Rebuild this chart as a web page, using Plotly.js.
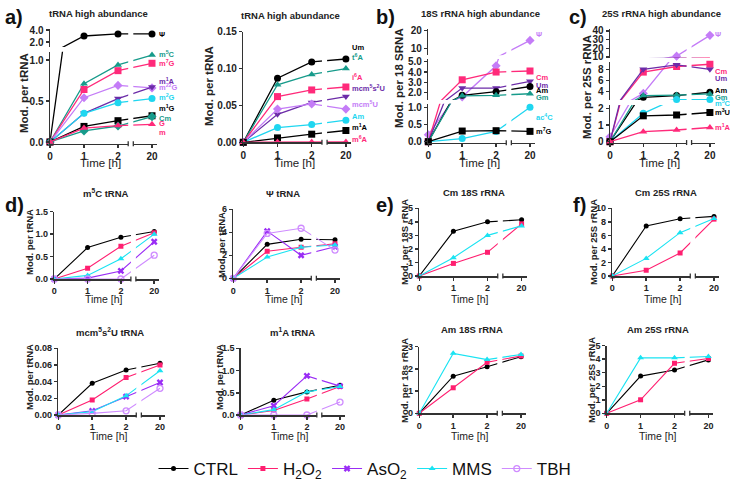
<!DOCTYPE html>
<html>
<head>
<meta charset="utf-8">
<script src="https://cdn.plot.ly/plotly-3.0.1.min.js"></script>
<style>
  html, body { margin: 0; padding: 0; background: #fff; }
  #chart { width: 730px; height: 486px; }
</style>
</head>
<body>
<div id="chart"></div>
<script>
const times = ["0", "1", "2", "20"];

// a) tRNA high abundance, left plot
const aPsi = [0, 3.0, 3.35, 3.35];
const aM5C = [0, 0.71, 0.94, 1.06];
const aM7G = [0, 0.64, 0.87, 0.96];
const aM1A = [0, 0.35, 0.53, 0.67];
const aM22G = [0, 0.54, 0.69, 0.66];
const aM2G = [0, 0.35, 0.48, 0.53];
const aM1G = [0, 0.19, 0.26, 0.32];
const aCm = [0, 0.135, 0.195, 0.31];
const aGm = [0, 0.17, 0.2, 0.215];

// a) tRNA high abundance, right plot
const aUm = [0, 0.087, 0.109, 0.113];
const aT6A = [0, 0.078, 0.092, 0.1];
const aI6A = [0, 0.062, 0.071, 0.075];
const aMcm5s2U = [0, 0.038, 0.054, 0.062];
const aMcm5U = [0, 0.045, 0.052, 0.045];
const aAm = [0, 0.02, 0.024, 0.03];
const aM1Ar = [0, 0.006, 0.011, 0.016];
const aM6A = [0, 0.0005, 0.0005, 0.0005];

// b) 18S rRNA high abundance
const bPsi = [0.2, 1.6, 4.6, 14.5];
const bCm = [0, 3.25, 4.0, 4.1];
const bUm = [0, 2.45, 2.45, 3.1];
const bAm = [0, 1.75, 2.1, 2.6];
const bGm = [0, 1.7, 1.75, 1.9];
const bAc4C = [0, 0.09, 0.3, 1.0];
const bM7G = [0, 0.31, 0.32, 0.3];

// c) 25S rRNA high abundance
const cPsi = [0.3, 3.7, 11, 35];
const cCm = [0, 7.5, 8.5, 8.9];
const cUm = [0, 8.0, 8.8, 8.0];
const cAm = [0, 3.0, 3.3, 3.9];
const cGm = [0, 3.3, 3.4, 3.6];
const cM5C = [0, 1.7, 2.6, 2.6];
const cM3U = [0, 1.55, 1.6, 1.75];
const cM1A = [0, 0.6, 0.7, 0.85];

// d) m5C tRNA
const m5cCtrl = [0, 0.7, 0.93, 1.06];
const m5cH2O2 = [0, 0.24, 0.73, 1.03];
const m5cAsO2 = [0, 0.02, 0.18, 0.83];
const m5cMMS = [0, 0.08, 0.45, 1.0];
const m5cTBH = [0, 0, 0, 0.53];
// d) Psi tRNA
const psiCtrl = [0, 2.95, 3.4, 3.35];
const psiH2O2 = [0, 2.35, 2.7, 3.0];
const psiAsO2 = [0, 4.1, 2.0, 2.75];
const psiMMS = [0, 1.85, 2.7, 2.9];
const psiTBH = [0, 3.9, 4.35, 2.45];
// e) Cm 18S rRNA
const cm18Ctrl = [0, 3.3, 4.0, 4.15];
const cm18H2O2 = [0, 0.93, 1.75, 3.85];
const cm18MMS = [0, 1.35, 3.0, 3.7];
// f) Cm 25S rRNA
const cm25Ctrl = [0, 7.4, 8.45, 8.8];
const cm25H2O2 = [0, 0.85, 3.4, 8.4];
const cm25MMS = [0, 2.6, 6.4, 8.5];
// d) mcm5s2U tRNA
const mcmCtrl = [0, 0.038, 0.054, 0.062];
const mcmH2O2 = [0, 0.018, 0.045, 0.06];
const mcmAsO2 = [0, 0.005, 0.022, 0.039];
const mcmMMS = [0, 0.004, 0.023, 0.053];
const mcmTBH = [0, 0.002, 0.005, 0.032];
// d) m1A tRNA
const m1aCtrl = [0, 0.33, 0.52, 0.67];
const m1aH2O2 = [0, 0.1, 0.36, 0.64];
const m1aAsO2 = [0, 0.21, 0.88, 0.65];
const m1aMMS = [0, 0.12, 0.52, 0.64];
const m1aTBH = [0, 0, 0, 0.29];
// e) Am 18S rRNA
const am18Ctrl = [0, 1.67, 2.1, 2.55];
const am18H2O2 = [0, 1.15, 2.3, 2.58];
const am18MMS = [0, 2.7, 2.42, 2.65];
// f) Am 25S rRNA
const am25Ctrl = [0, 2.75, 3.2, 3.95];
const am25H2O2 = [0, 1.0, 3.7, 4.05];
const am25MMS = [0, 4.1, 4.1, 4.2];

const W = 730, H = 486;
const fx = (p) => p / W;
const fy = (p) => 1 - p / H;

const K = "#000000", PINK = "#ff2a7a", TEAL = "#179b8b", PURPLE = "#6c2ca8",
  VIOLET = "#c47cf7", CYAN = "#1fd6f0";

const treat = {
  ctrl: { name: "CTRL", color: "#000000", symbol: "circle", size: 5 },
  h2o2: { name: "H<sub>2</sub>O<sub>2</sub>", color: "#ff1f70", symbol: "square", size: 5 },
  aso2: { name: "AsO<sub>2</sub>", color: "#9a2df5", symbol: "x", size: 6 },
  mms: { name: "MMS", color: "#1ae3f2", symbol: "triangle-up", size: 6 },
  tbh: { name: "TBH", color: "#cf8cff", symbol: "circle-open", size: 6 },
};

// font sizes: top row is printed larger than the two lower rows
const topFonts = { tick: 10, title: 9.5, ytitle: 11.5, time: 11.5 };
const lowFonts = { tick: 9, title: 9.5, ytitle: 9.5, time: 10.5 };

const boldFont = { family: "Arial, Liberation Sans, sans-serif", weight: "bold", color: "#222" };

const layout = {
  width: W,
  height: H,
  margin: { l: 0, r: 0, t: 0, b: 0, autoexpand: false },
  paper_bgcolor: "#fff",
  plot_bgcolor: "rgba(0,0,0,0)",
  font: { family: "Arial, Liberation Sans, sans-serif", color: "#222" },
  showlegend: true,
  legend: {
    orientation: "h",
    x: 0.5,
    xanchor: "center",
    y: fy(469),
    yanchor: "middle",
    font: { size: 17, color: "#111" },
    bgcolor: "rgba(0,0,0,0)",
  },
  annotations: [],
  shapes: [],
};
const data = [];

const axisBase = {
  showline: true,
  linecolor: "#333",
  linewidth: 1.5,
  ticks: "outside",
  ticklen: 3,
  tickwidth: 1.5,
  tickcolor: "#333",
  showgrid: false,
  zeroline: false,
  fixedrange: true,
};

function ann(text, x, y, font, extra) {
  layout.annotations.push(Object.assign({
    text: text, x: fx(x), y: fy(y), xref: "paper", yref: "paper",
    xanchor: "center", yanchor: "middle", showarrow: false, font: font,
  }, extra || {}));
}
const bold = (size, color) => Object.assign({}, boldFont, { size: size }, color ? { color: color } : {});

const axId = (n) => (n === 1 ? "" : String(n));
const lin = (c, v) => c[1] + (v - c[0]) * (c[3] - c[1]) / (c[2] - c[0]);
let nx = 0, ny = 0;

function addPanel(p) {
  const fs = p.fonts;
  nx++;
  const xr = "x" + axId(nx);
  const yrefs = [];
  const xLeft = p.x0, xRight = p.x0 + 3.15 * p.unit;
  let topPx = Infinity, botPx = 0;
  p.segs.forEach((s) => {
    ny++;
    yrefs.push("y" + axId(ny));
    const pLo = lin(s.cal, s.lo), pHi = lin(s.cal, s.hi);
    topPx = Math.min(topPx, pHi);
    botPx = Math.max(botPx, pLo);
    layout["yaxis" + axId(ny)] = Object.assign({}, axisBase, {
      domain: [fy(pLo), fy(pHi)], anchor: xr, range: [s.lo, s.hi],
      tickvals: s.ticks, tickformat: s.fmt, tickfont: bold(fs.tick),
    });
  });
  layout["xaxis" + axId(nx)] = Object.assign({}, axisBase, {
    domain: [fx(xLeft), fx(xRight)], anchor: yrefs[0], type: "category", range: [0, 3.15],
    tickfont: bold(fs.tick),
  });
  const broken = yrefs.length > 1;
  p.series.forEach((s) => {
    yrefs.forEach((yr, i) => {
      const seg = p.segs[i];
      const marker = {
        color: s.color, size: s.size || 7, symbol: s.symbol,
        line: { color: s.color, width: s.symbol === "circle-open" ? 1.3 : 0 },
      };
      if (broken) {
        // line drawn in every segment, markers only where the point falls inside
        data.push({
          type: "scatter", mode: "lines", x: times, y: s.y, xaxis: xr, yaxis: yr,
          showlegend: false, line: { color: s.color, width: s.lw || 1.3 }, hoverinfo: "skip",
        });
        data.push({
          type: "scatter", mode: "markers", x: times,
          y: s.y.map((v) => (v >= seg.lo && v <= seg.hi ? v : null)),
          xaxis: xr, yaxis: yr, showlegend: false, marker: marker,
          cliponaxis: false, hoverinfo: "skip",
        });
      } else {
        data.push({
          type: "scatter", mode: "lines+markers", x: times, y: s.y,
          xaxis: xr, yaxis: yr, name: s.name || "", showlegend: !!s.legend,
          line: { color: s.color, width: s.lw || 1.3 }, marker: marker,
          cliponaxis: false, hoverinfo: "skip",
        });
      }
    });
  });
  // x axis break between 2 and 20
  layout.shapes.push({
    type: "rect", xref: xr, yref: "paper", x0: 2.3, x1: 2.45,
    y0: fy(botPx + 3), y1: fy(topPx), fillcolor: "#fff", line: { width: 0 }, layer: "above",
  });
  [2.3, 2.45].forEach((bx) => layout.shapes.push({
    type: "line", xref: xr, yref: "paper", x0: bx, x1: bx,
    y0: fy(botPx + 2.5), y1: fy(botPx - 2.5), line: { color: "#333", width: 1.3 }, layer: "above",
  }));
  // titles
  ann(p.title, p.titleX, p.titleY, bold(fs.title));
  ann("Time [h]", xLeft + 1.5 * p.unit, p.xTitleY,
    { family: boldFont.family, size: fs.time, color: "#222", weight: 500 });
  ann(p.yTitle, p.yTitleX, p.yTitleY, bold(fs.ytitle), { textangle: -90 });
  if (p.letter) ann(p.letter[0], p.letter[1], p.letter[2], bold(20, "#111"));
  (p.labels || []).forEach((l) => ann(l[0], p.labelX, l[2], bold(7.5, l[1]), { xanchor: "left" }));
}

function treatSeries(vals, legend) {
  return Object.keys(vals).map((k) => Object.assign({}, treat[k], { y: vals[k], legend: legend, lw: 1.1 }));
}

// ---- a) left
addPanel({
  fonts: topFonts, x0: 50, unit: 34,
  segs: [
    { lo: -0.02, hi: 1.1, cal: [0, 142, 1, 60], ticks: [0, 0.5, 1], fmt: ".1f" },
    { lo: 1.15, hi: 4.2, cal: [2, 42, 4, 30], ticks: [2, 4], fmt: ".1f" },
  ],
  series: [
    { y: aPsi, color: K, symbol: "circle" },
    { y: aM5C, color: TEAL, symbol: "triangle-up" },
    { y: aM7G, color: PINK, symbol: "square" },
    { y: aM22G, color: VIOLET, symbol: "diamond" },
    { y: aM1A, color: PURPLE, symbol: "triangle-down" },
    { y: aM2G, color: CYAN, symbol: "circle" },
    { y: aM1G, color: K, symbol: "square" },
    { y: aCm, color: TEAL, symbol: "diamond" },
    { y: aGm, color: PINK, symbol: "triangle-up" },
  ],
  labelX: 157,
  labels: [["Ψ", K, 35], ["m<sup>5</sup>C", TEAL, 54], ["m<sup>7</sup>G", PINK, 63],
    ["m<sup>1</sup>A", PURPLE, 81], ["m<sup>22</sup>G", VIOLET, 87], ["m<sup>2</sup>G", CYAN, 97],
    ["m<sup>1</sup>G", K, 108], ["Cm", TEAL, 118], ["G", PINK, 124], ["m", PINK, 132]],
  title: "tRNA high abundance", titleX: 98, titleY: 14,
  xTitleY: 163, yTitle: "Mod. per tRNA", yTitleX: 24, yTitleY: 93,
  letter: ["a)", 14, 17],
});

// ---- a) right
addPanel({
  fonts: topFonts, x0: 243.3, unit: 34.2,
  segs: [{ lo: 0, hi: 0.15, cal: [0, 142.3, 0.15, 31.7], ticks: [0, 0.05, 0.1, 0.15], fmt: ".2f" }],
  series: [
    { y: aUm, color: K, symbol: "circle" },
    { y: aT6A, color: TEAL, symbol: "triangle-up" },
    { y: aI6A, color: PINK, symbol: "square" },
    { y: aMcm5s2U, color: PURPLE, symbol: "triangle-down" },
    { y: aMcm5U, color: VIOLET, symbol: "diamond" },
    { y: aAm, color: CYAN, symbol: "circle" },
    { y: aM1Ar, color: K, symbol: "square" },
    { y: aM6A, color: PINK, symbol: "triangle-up" },
  ],
  labelX: 350,
  labels: [["Um", K, 47], ["t<sup>6</sup>A", TEAL, 57], ["i<sup>6</sup>A", PINK, 77],
    ["mcm<sup>5</sup>s<sup>2</sup>U", PURPLE, 88], ["mcm<sup>5</sup>U", VIOLET, 104],
    ["Am", CYAN, 116], ["m<sup>1</sup>A", K, 127], ["m<sup>6</sup>A", PINK, 139]],
  title: "tRNA high abundance", titleX: 290, titleY: 15,
  xTitleY: 163, yTitle: "Mod. per tRNA", yTitleX: 209, yTitleY: 86,
});

// ---- b)
addPanel({
  fonts: topFonts, x0: 428.3, unit: 33.9,
  segs: [
    { lo: -0.03, hi: 1.1, cal: [0, 141.7, 1, 107.3], ticks: [0, 0.5, 1], fmt: ".1f" },
    { lo: 1.3, hi: 5.25, cal: [2, 92.7, 5, 61.7], ticks: [2, 3, 4, 5], fmt: ".1f" },
    { lo: 6, hi: 21, cal: [10, 48.3, 20, 30.7], ticks: [10, 20], fmt: "d" },
  ],
  series: [
    { y: bPsi, color: VIOLET, symbol: "diamond" },
    { y: bCm, color: PINK, symbol: "square" },
    { y: bUm, color: PURPLE, symbol: "triangle-down" },
    { y: bAm, color: K, symbol: "circle" },
    { y: bGm, color: TEAL, symbol: "triangle-up" },
    { y: bAc4C, color: CYAN, symbol: "circle" },
    { y: bM7G, color: K, symbol: "square" },
  ],
  labelX: 534,
  labels: [["Ψ", VIOLET, 35], ["Cm", PINK, 77], ["Um", PURPLE, 85], ["Am", K, 91],
    ["Gm", TEAL, 97], ["ac<sup>4</sup>C", CYAN, 117], ["m<sup>7</sup>G", K, 131]],
  title: "18S rRNA high abundance", titleX: 480, titleY: 14,
  xTitleY: 163, yTitle: "Mod. per 18 SRNA", yTitleX: 399, yTitleY: 78,
  letter: ["b)", 385, 17],
});

// ---- c)
addPanel({
  fonts: topFonts, x0: 610, unit: 33.3,
  segs: [
    { lo: -0.05, hi: 2.2, cal: [0, 141.7, 2, 108.3], ticks: [0, 1, 2], fmt: "d" },
    { lo: 2.5, hi: 9.3, cal: [4, 91.7, 8, 69.3], ticks: [4, 6, 8], fmt: "d" },
    { lo: 9, hi: 42, cal: [10, 57, 40, 31], ticks: [10, 20, 30, 40], fmt: "d" },
  ],
  series: [
    { y: cPsi, color: VIOLET, symbol: "diamond" },
    { y: cCm, color: PINK, symbol: "square" },
    { y: cUm, color: PURPLE, symbol: "triangle-down" },
    { y: cAm, color: K, symbol: "circle" },
    { y: cGm, color: TEAL, symbol: "triangle-up" },
    { y: cM5C, color: CYAN, symbol: "circle" },
    { y: cM3U, color: K, symbol: "square" },
    { y: cM1A, color: PINK, symbol: "triangle-up" },
  ],
  labelX: 713,
  labels: [["Ψ", VIOLET, 35], ["Cm", PINK, 71], ["Um", PURPLE, 79], ["Am", K, 91],
    ["Gm", TEAL, 97], ["m<sup>5</sup>C", CYAN, 103], ["m<sup>3</sup>U", K, 112], ["m<sup>1</sup>A", PINK, 127]],
  title: "25S rRNA high abundance", titleX: 661, titleY: 14,
  xTitleY: 163, yTitle: "Mod. per 25S rRNA", yTitleX: 587, yTitleY: 87,
  letter: ["c)", 578, 17],
});

// ---- row 2
addPanel({
  fonts: lowFonts, x0: 54.3, unit: 33.3,
  segs: [{ lo: 0, hi: 1.5, cal: [0, 279, 1.5, 211.7], ticks: [0, 0.5, 1, 1.5], fmt: ".1f" }],
  series: treatSeries({ ctrl: m5cCtrl, h2o2: m5cH2O2, aso2: m5cAsO2, mms: m5cMMS, tbh: m5cTBH }, true),
  title: "m<sup>5</sup>C tRNA", titleX: 106, titleY: 193,
  xTitleY: 299, yTitle: "Mod. per tRNA", yTitleX: 29, yTitleY: 242,
  letter: ["d)", 14, 205],
});
addPanel({
  fonts: lowFonts, x0: 233.3, unit: 33.9,
  segs: [{ lo: 0, hi: 6, cal: [0, 278.3, 6, 209.3], ticks: [0, 2, 4, 6], fmt: "d" }],
  series: treatSeries({ ctrl: psiCtrl, h2o2: psiH2O2, aso2: psiAsO2, mms: psiMMS, tbh: psiTBH }, false),
  title: "Ψ tRNA", titleX: 283, titleY: 193,
  xTitleY: 299, yTitle: "Mod. per tRNA", yTitleX: 221, yTitleY: 245,
});
addPanel({
  fonts: lowFonts, x0: 419.3, unit: 34.1,
  segs: [{ lo: 0, hi: 5, cal: [0, 276, 5, 208.3], ticks: [0, 1, 2, 3, 4, 5], fmt: "d" }],
  series: treatSeries({ ctrl: cm18Ctrl, h2o2: cm18H2O2, mms: cm18MMS }, false),
  title: "Cm 18S rRNA", titleX: 474, titleY: 192,
  xTitleY: 299, yTitle: "Mod. per 18S rRNA", yTitleX: 404, yTitleY: 242,
  letter: ["e)", 385, 205],
});
addPanel({
  fonts: lowFonts, x0: 612.3, unit: 33.9,
  segs: [{ lo: 0, hi: 10, cal: [0, 276, 10, 208.3], ticks: [0, 2, 4, 6, 8, 10], fmt: "d" }],
  series: treatSeries({ ctrl: cm25Ctrl, h2o2: cm25H2O2, mms: cm25MMS }, false),
  title: "Cm 25S rRNA", titleX: 666, titleY: 192,
  xTitleY: 299, yTitle: "Mod. per 25S rRNA", yTitleX: 593, yTitleY: 242,
  letter: ["f)", 579, 205],
});

// ---- row 3
addPanel({
  fonts: lowFonts, x0: 58.3, unit: 33.9,
  segs: [{ lo: 0, hi: 0.08, cal: [0, 415, 0.08, 348.3], ticks: [0, 0.02, 0.04, 0.06, 0.08], fmt: ".2f" }],
  series: treatSeries({ ctrl: mcmCtrl, h2o2: mcmH2O2, aso2: mcmAsO2, mms: mcmMMS, tbh: mcmTBH }, false),
  title: "mcm<sup>5</sup>s<sup>2</sup>U tRNA", titleX: 110, titleY: 332,
  xTitleY: 436, yTitle: "Mod. per tRNA", yTitleX: 29, yTitleY: 377,
});
addPanel({
  fonts: lowFonts, x0: 240.7, unit: 33.1,
  segs: [{ lo: 0, hi: 1.5, cal: [0, 415, 1.5, 348.3], ticks: [0, 0.5, 1, 1.5], fmt: ".1f" }],
  series: treatSeries({ ctrl: m1aCtrl, h2o2: m1aH2O2, aso2: m1aAsO2, mms: m1aMMS, tbh: m1aTBH }, false),
  title: "m<sup>1</sup>A tRNA", titleX: 292, titleY: 332,
  xTitleY: 436, yTitle: "Mod. per tRNA", yTitleX: 219, yTitleY: 377,
});
addPanel({
  fonts: lowFonts, x0: 419.3, unit: 33.9,
  segs: [{ lo: 0, hi: 3, cal: [0, 413.3, 3, 346.7], ticks: [0, 1, 2, 3], fmt: "d" }],
  series: treatSeries({ ctrl: am18Ctrl, h2o2: am18H2O2, mms: am18MMS }, false),
  title: "Am 18S rRNA", titleX: 472, titleY: 329,
  xTitleY: 436, yTitle: "Mod. per 18s rRNA", yTitleX: 404, yTitleY: 380,
});
addPanel({
  fonts: lowFonts, x0: 606.7, unit: 33.9,
  segs: [{ lo: 0, hi: 5, cal: [0, 413.3, 5, 345.7], ticks: [0, 1, 2, 3, 4, 5], fmt: "d" }],
  series: treatSeries({ ctrl: am25Ctrl, h2o2: am25H2O2, mms: am25MMS }, false),
  title: "Am 25S rRNA", titleX: 658, titleY: 329,
  xTitleY: 436, yTitle: "Mod. per 25S rRNA", yTitleX: 591, yTitleY: 380,
});

Plotly.newPlot("chart", data, layout, { displayModeBar: false, staticPlot: true });
</script>
</body>
</html>
